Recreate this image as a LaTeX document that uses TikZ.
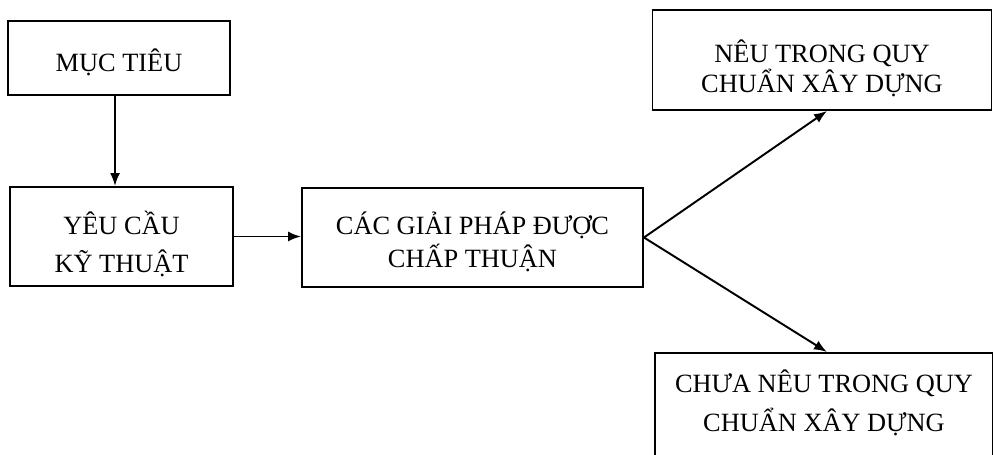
\documentclass[tikz,border=0pt]{standalone}
\usepackage{fontspec}
\setmainfont{Liberation Serif}
\usepackage{tikz}
\usetikzlibrary{arrows.meta,calc,positioning}

\begin{document}
\begin{tikzpicture}[
  box/.style={draw,line width=1.1pt,inner sep=0pt},
  every label/.style={align=center,inner sep=0pt,font=\fontsize{15}{20.5}\selectfont},
  arr/.style={line width=1.1pt,-{Latex[length=2.6mm,width=2mm]}}]
\useasboundingbox (0,0) rectangle (19.86,-9.10);
\clip (0,0) rectangle (19.86,-9.10);
\node[box,minimum width=4.44cm,minimum height=1.48cm,
  label={[yshift=-0.08cm]center:MỤC TIÊU}] (muctieu) at (2.38,-1.16) {};
\node[box,minimum width=4.46cm,minimum height=1.98cm,
  label={[yshift=-0.15cm]center:YÊU CẦU\\[0.04cm]KỸ THUẬT}] (yeucau) at (2.43,-4.73) {};
\node[box,minimum width=6.82cm,minimum height=1.98cm,
  label={[yshift=-0.08cm]center:CÁC GIẢI PHÁP ĐƯỢC\\[-0.06cm]CHẤP THUẬN}] (giaiphap) at (9.45,-4.75) {};
\node[box,minimum width=6.78cm,minimum height=2.00cm,
  label={[yshift=-0.17cm]center:NÊU TRONG QUY\\[-0.13cm]CHUẨN XÂY DỰNG}] (neu) at (16.44,-1.20) {};
\node[box,minimum width=6.76cm,minimum height=2.10cm,
  label={[yshift=0.06cm]center:CHƯA NÊU TRONG QUY\\[0.06cm]CHUẨN XÂY DỰNG}] (chuaneu) at (16.48,-8.11) {};
% mui ten
\coordinate (mt) at ($(muctieu.south)+(-0.08,0)$);
\draw[arr] (mt) -- (mt |- yeucau.north);
\draw[arr] (yeucau.east) -- (yeucau.east -| giaiphap.west);
\draw[arr] (giaiphap.east) -- ($(neu.south)+(0.1,0)$);
\draw[arr] (giaiphap.east) -- ($(chuaneu.north)+(0.06,0)$);
\end{tikzpicture}
\end{document}
